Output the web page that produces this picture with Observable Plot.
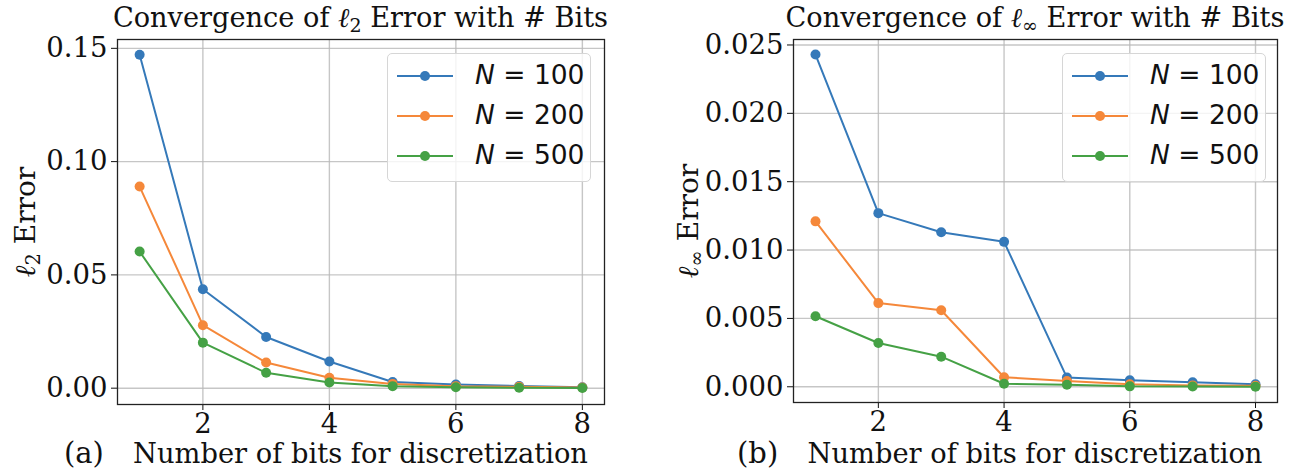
<!DOCTYPE html>
<html>
<head>
<meta charset="utf-8">
<script src="https://cdn.jsdelivr.net/npm/d3@7"></script>
<script src="https://cdn.jsdelivr.net/npm/@observablehq/plot@0.6"></script>
<style>
  html, body { margin: 0; padding: 0; background: #fff; }
  #wrap { position: relative; width: 1289px; height: 469px; overflow: hidden; font-family: "DejaVu Serif", serif; color: #111; }
  .panel { position: absolute; top: 0; height: 469px; }
  .panel svg { position: absolute; left: 0; top: 0; }
  .txt { position: absolute; white-space: nowrap; line-height: 1; font-size: 27px; }
  .title { transform: translateX(-50%); font-size: 27.2px; }
  .ylab { transform: translate(-50%, -50%) rotate(-90deg); font-size: 28px; }
  .xlab { transform: translateX(-50%); font-size: 27.3px; }
  sub { font-size: 70%; vertical-align: -0.25em; line-height: 0; }
  .legend { position: absolute; border: 1px solid #d6d6d6; border-radius: 5px; background: rgba(255,255,255,0.8); box-sizing: border-box; }
  .legend .row { position: absolute; left: 0; height: 40px; width: 100%; }
  .legend .row svg { position: absolute; left: 0; top: 0; }
  .legend .lab { position: absolute; left: 87px; top: 6px; font-family: "DejaVu Sans", sans-serif; font-size: 26.5px; line-height: 1; white-space: nowrap; }
</style>
</head>
<body>
<div id="wrap"></div>
<script>
// ---- data ----
const bits = [1, 2, 3, 4, 5, 6, 7, 8];
const seriesNames = ["N = 100", "N = 200", "N = 500"];
const seriesColors = ["#3579b9", "#f5883a", "#45a145"];

const l2_N100 = [0.1472, 0.0437, 0.0226, 0.0118, 0.0027, 0.0016, 0.0010, 0.0004];
const l2_N200 = [0.0890, 0.0278, 0.0113, 0.0046, 0.0019, 0.0009, 0.0006, 0.0003];
const l2_N500 = [0.0603, 0.0201, 0.0068, 0.0025, 0.0009, 0.0004, 0.0002, 0.0001];

const linf_N100 = [0.0243, 0.0127, 0.0113, 0.0106, 0.00067, 0.00047, 0.00033, 0.00018];
const linf_N200 = [0.0121, 0.00612, 0.0056, 0.00070, 0.00042, 0.00018, 0.00010, 0.00008];
const linf_N500 = [0.00516, 0.0032, 0.0022, 0.00022, 0.00015, 0.00003, 0.00002, 0.00001];

const xTicks = [2, 4, 6, 8];
const l2Ticks = [0, 0.05, 0.10, 0.15];
const linfTicks = [0, 0.005, 0.010, 0.015, 0.020, 0.025];

function toRows(seriesArrays) {
  return seriesArrays.map((vals, i) => vals.map((v, j) => ({bits: bits[j], value: v, series: seriesNames[i]})));
}

function makePlot(cfg) {
  const rows = toRows(cfg.series);
  const marks = [
    Plot.gridX(xTicks, {stroke: "#b8b8b8", strokeOpacity: 0.8, strokeWidth: 1.4}),
    Plot.gridY(cfg.yTicks, {stroke: "#b8b8b8", strokeOpacity: 0.8, strokeWidth: 1.4}),
    Plot.axisX(xTicks, {tickSize: 6, tickPadding: 3, fontSize: 27.5, label: null, tickFormat: d => String(d)}),
    Plot.axisY(cfg.yTicks, {tickSize: 6, tickPadding: 4, fontSize: 27.5, label: null, tickFormat: d3.format(cfg.fmt)})
  ];
  rows.forEach((r, i) => {
    marks.push(Plot.line(r, {x: "bits", y: "value", stroke: seriesColors[i], strokeWidth: 2}));
    marks.push(Plot.dot(r, {x: "bits", y: "value", fill: seriesColors[i], r: 5}));
  });
  marks.push(Plot.frame({stroke: "#222", strokeWidth: 1.3}));
  return Plot.plot({
    width: cfg.width, height: 469,
    marginLeft: cfg.ml, marginRight: cfg.mr, marginTop: cfg.mt, marginBottom: cfg.mb,
    x: {domain: [0.65, 8.35]},
    y: {domain: cfg.yDomain},
    style: {fontFamily: "DejaVu Serif, serif", fontSize: "27.5px", color: "#111", background: "transparent"},
    marks
  });
}

function legendHTML(left) {
  let h = `<div class="legend" style="left:${left}px; top:53px; width:204px; height:129px;">`;
  seriesNames.forEach((name, i) => {
    const num = name.split("= ")[1];
    h += `<div class="row" style="top:${2 + i * 40}px">
      <svg width="80" height="40"><line x1="9" x2="65" y1="20" y2="20" stroke="${seriesColors[i]}" stroke-width="2"/><circle cx="37" cy="20" r="5" fill="${seriesColors[i]}"/></svg>
      <div class="lab"><i>N</i> = ${num}</div></div>`;
  });
  return h + `</div>`;
}

const wrap = document.getElementById("wrap");

const panels = [
  {left: 0, width: 645, ml: 117, mr: 41, mt: 39, mb: 65, yDomain: [-0.0072, 0.1539], yTicks: l2Ticks, fmt: ".2f",
   series: [l2_N100, l2_N200, l2_N500],
   title: `Convergence of <i>ℓ</i><sub>2</sub> Error with # Bits`,
   ylab: `<i>ℓ</i><sub>2</sub> Error`, ylabX: 26, tag: "(a)", tagX: 64, legendLeft: 387},
  {left: 645, width: 644, ml: 148, mr: 12, mt: 39, mb: 67, yDomain: [-0.00115, 0.0254], yTicks: linfTicks, fmt: ".3f",
   series: [linf_N100, linf_N200, linf_N500],
   title: `Convergence of <i>ℓ</i><sub>∞</sub> Error with # Bits`,
   ylab: `<i>ℓ</i><sub>∞</sub> Error`, ylabX: 44, tag: "(b)", tagX: 92, legendLeft: 417}
];

panels.forEach(p => {
  const div = document.createElement("div");
  div.className = "panel";
  div.style.left = p.left + "px";
  div.style.width = p.width + "px";
  div.appendChild(makePlot(p));
  const cx = p.ml + (p.width - p.ml - p.mr) / 2;
  const cy = p.mt + (469 - p.mt - p.mb) / 2;
  div.insertAdjacentHTML("beforeend",
    `<div class="txt title" style="left:${cx}px; top:4px;">${p.title}</div>` +
    `<div class="txt ylab" style="left:${p.ylabX}px; top:${cy}px;">${p.ylab}</div>` +
    `<div class="txt xlab" style="left:${cx}px; top:440px;">Number of bits for discretization</div>` +
    `<div class="txt" style="left:${p.tagX}px; top:439px; font-size:29px;">${p.tag}</div>` +
    legendHTML(p.legendLeft));
  wrap.appendChild(div);
});
</script>
</body>
</html>
